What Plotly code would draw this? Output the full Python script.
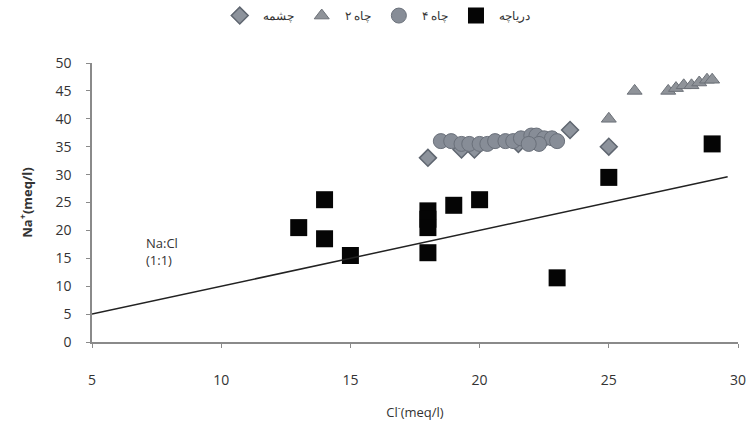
import plotly.graph_objects as go

# Data (Cl- vs Na+, meq/l)
lake_x = [13, 14, 14, 15, 18, 18, 18, 18, 19, 20, 23, 25, 29]
lake_y = [20.5, 25.5, 18.5, 15.5, 23.5, 22, 20.5, 16, 24.5, 25.5, 11.5, 29.5, 35.5]

well4_x = [18.5, 18.9, 19.3, 19.6, 20.0, 20.3, 20.6, 21.0, 21.3, 21.6, 22.0, 22.2, 22.5, 22.8, 23.0, 22.3, 21.9]
well4_y = [36, 36, 35.5, 35.5, 35.5, 35.5, 36, 36, 36, 36.5, 37, 37, 36.5, 36.5, 36, 35.5, 35.5]

well2_x = [25, 26, 27.3, 27.6, 27.9, 28.2, 28.5, 28.8, 29]
well2_y = [40, 45, 45, 45.5, 46, 46, 46.5, 47, 47]

spring_x = [18, 19.3, 19.8, 21.5, 23.5, 25]
spring_y = [33, 34.5, 34.5, 35.5, 38, 35]

line_x = [5, 29.6]
line_y = [5, 29.6]

fig = go.Figure()
fig.add_trace(go.Scatter(x=spring_x, y=spring_y, mode="markers", name="چشمه",
                         marker=dict(symbol="diamond", size=13, color="#8d939c",
                                     line=dict(color="#5f6670", width=1.5))))
fig.add_trace(go.Scatter(x=well2_x, y=well2_y, mode="markers", name="چاه ۲",
                         marker=dict(symbol="triangle-up", size=13, color="#8f9399",
                                     line=dict(color="#6c7178", width=1))))
fig.add_trace(go.Scatter(x=well4_x, y=well4_y, mode="markers", name="چاه ۴",
                         marker=dict(symbol="circle", size=15, color="#878d97",
                                     line=dict(color="#6a707a", width=1))))
fig.add_trace(go.Scatter(x=lake_x, y=lake_y, mode="markers", name="دریاچه",
                         marker=dict(symbol="square", size=17, color="#050505")))
fig.add_trace(go.Scatter(x=line_x, y=line_y, mode="lines", showlegend=False,
                         line=dict(color="#222222", width=1.5)))

fig.add_annotation(x=7.0, y=16.3, xref="x", yref="y", text="Na:Cl<br>(1:1)",
                   showarrow=False, xanchor="left", align="left",
                   font=dict(family="Open Sans", size=13, color="#333333"))

fig.update_layout(
    width=751, height=434,
    margin=dict(l=92, r=13, t=63, b=92, autoexpand=False),
    plot_bgcolor="white", paper_bgcolor="white",
    font=dict(family="Open Sans", color="#333333", size=14),
    legend=dict(orientation="h", x=0.44, xanchor="center", y=1.17, yanchor="middle",
                font=dict(size=12, color="#333333"), itemwidth=36),
    showlegend=True,
)
fig.update_xaxes(range=[5, 30], tickvals=[5, 10, 15, 20, 25, 30],
                 showgrid=False, zeroline=False, showline=True,
                 linecolor="#8a8a8a", linewidth=1.5, ticks="outside", ticklen=4,
                 tickcolor="#8a8a8a", ticklabelstandoff=20,
                 title=dict(text="Cl<sup>-</sup>(meq/l)", standoff=20,
                            font=dict(size=13, color="#333333")))
fig.update_yaxes(range=[0, 50], dtick=5,
                 showgrid=False, zeroline=False, showline=True,
                 linecolor="#8a8a8a", linewidth=1.5, ticks="outside", ticklen=4,
                 tickcolor="#8a8a8a", ticklabelstandoff=12,
                 title=dict(text="<b>Na<sup>+</sup>(meq/l)</b>", standoff=20,
                            font=dict(size=13, color="#333333")))

fig.write_html("out.html")
